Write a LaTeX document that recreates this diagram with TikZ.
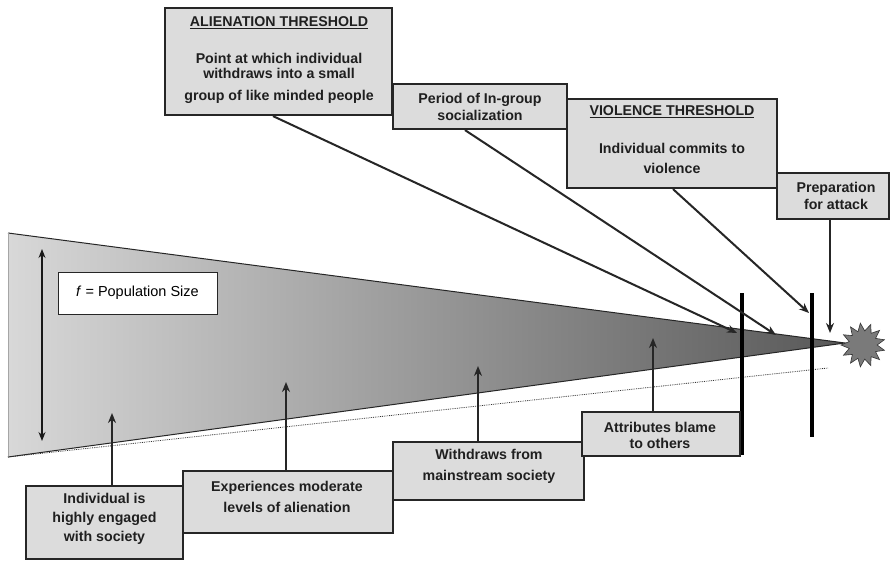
\documentclass[tikz,border=0pt]{standalone}
\usepackage{fontspec}
\setmainfont{Liberation Sans}
\usetikzlibrary{arrows.meta,shapes.geometric}
\definecolor{trileft}{RGB}{216,216,216}
\definecolor{trimid}{RGB}{184,184,184}
\definecolor{triright}{RGB}{88,88,88}
\definecolor{boxfill}{RGB}{220,220,220}
\begin{document}
\begin{tikzpicture}[x=1pt,y=-1pt]
\tikzset{
  boxst/.style={draw=black!85, line width=2.2pt, fill=boxfill, inner sep=0pt},
  txt/.style={font=\bfseries\fontsize{14.2}{16}\selectfont, text=black!88, align=center, inner sep=0pt},
  conn/.style={line width=2pt, draw=black!85, -{Stealth[length=10pt,width=8pt]}},
}
\useasboundingbox[fill=white] (0,0) rectangle (892,562);

% triangle
\coordinate (A) at (8,233);
\coordinate (B) at (845,343);
\coordinate (C) at (8,457);
\shade[left color=trileft, middle color=trimid, right color=triright] (A) -- (B) -- (C) -- cycle;
\draw[line width=1pt, black!85] (A) -- (B) -- (C);
\draw[line width=0.6pt, black!35] (A) -- (C);

% dotted line
\coordinate (D1) at (8,457);
\coordinate (D2) at (828,368);
\draw[densely dotted, line width=0.8pt, black!80] (D1) -- (D2);

% population double arrow
\coordinate (P1) at (42,249);
\coordinate (P2) at (42,441);
\draw[{Stealth[length=9pt,width=7pt]}-{Stealth[length=9pt,width=7pt]}, line width=1.2pt, black!90] (P1) -- (P2);

\node[draw=black!85, line width=0.8pt, fill=white, minimum width=159pt, minimum height=42pt, inner sep=0pt, font=\fontsize{14.5}{16}\selectfont] (pop) at (137.5,293) {\textit{f} = Population Size};

% threshold bars
\coordinate (V1a) at (742,293);
\coordinate (V1b) at (742,455);
\coordinate (V2a) at (812,293);
\coordinate (V2b) at (812,437);
\draw[line width=4.5pt, black] (V1a) -- (V1b);
\draw[line width=4.5pt, black] (V2a) -- (V2b);

% starburst
\node[star, star points=13, star point ratio=1.55, minimum size=44pt, fill=black!52, draw=black!80, line width=0.6pt, inner sep=0pt, shape border rotate=90] (burst) at (863,345) {};

% top boxes
\node[boxst, minimum width=227pt, minimum height=107pt] (b1) at (278.5,61.5) {};
\node[boxst, minimum width=174pt, minimum height=45pt] (b2) at (480,106.5) {};
\node[boxst, minimum width=210pt, minimum height=89pt] (b3) at (672,143.5) {};
\node[boxst, minimum width=112pt, minimum height=46pt] (b4) at (833,196) {};

\node[txt] (t1a) at (279,23) {\underline{ALIENATION THRESHOLD}};
\node[txt, font=\bfseries\fontsize{14.2}{15.5}\selectfont] (t1b) at (279,66) {Point at which individual\\withdraws into a small};
\node[txt] (t1c) at (279,97) {group of like minded people};
\node[txt, font=\bfseries\fontsize{14.2}{17}\selectfont] (t2) at (480,106.5) {Period of In-group\\socialization};
\node[txt] (t3a) at (672,112) {\underline{VIOLENCE THRESHOLD}};
\node[txt, font=\bfseries\fontsize{14.2}{20}\selectfont] (t3b) at (672,158) {Individual commits to\\violence};
\node[txt, font=\bfseries\fontsize{14.2}{17}\selectfont] (t4) at (836,195.5) {Preparation\\for attack};

% bottom boxes
\node[boxst, minimum width=157pt, minimum height=73pt] (b5) at (104.5,522.5) {};
\node[boxst, minimum width=210pt, minimum height=62pt] (b6) at (288,502) {};
\node[boxst, minimum width=191pt, minimum height=58pt] (b7) at (488.5,471) {};
\node[boxst, minimum width=158pt, minimum height=44pt] (b8) at (661,434) {};

\node[txt, font=\bfseries\fontsize{14.2}{19}\selectfont] (t5) at (104.5,519) {Individual is\\highly engaged\\with society};
\node[txt, font=\bfseries\fontsize{14.2}{21}\selectfont] (t6) at (287,496.5) {Experiences moderate\\levels of alienation};
\node[txt, font=\bfseries\fontsize{14.2}{21}\selectfont] (t7) at (489,466.5) {Withdraws from\\mainstream society};
\node[txt, font=\bfseries\fontsize{14.2}{16}\selectfont] (t8) at (660,435) {Attributes blame\\to others};

% connectors from top boxes
\coordinate (e1) at (737,333);
\coordinate (e2) at (776,335);
\coordinate (e3) at (809,313);
\coordinate (e4) at (830,333);
\draw[conn] ([xshift=-5.5pt]b1.south) -- (e1);
\draw[conn] ([xshift=-15pt]b2.south) -- (e2);
\draw[conn] ([xshift=1pt]b3.south) -- (e3);
\draw[conn] (b4.south -| e4) -- (e4);

% arrows from bottom boxes
\coordinate (u1) at (112,413);
\coordinate (u2) at (286,382);
\coordinate (u3) at (478,366);
\coordinate (u4) at (653,338);
\draw[conn, line width=2.6pt] (b5.north -| u1) -- (u1);
\draw[conn, line width=2.6pt] (b6.north -| u2) -- (u2);
\draw[conn, line width=2.6pt] (b7.north -| u3) -- (u3);
\draw[conn, line width=2.6pt] (b8.north -| u4) -- (u4);
\end{tikzpicture}
\end{document}
